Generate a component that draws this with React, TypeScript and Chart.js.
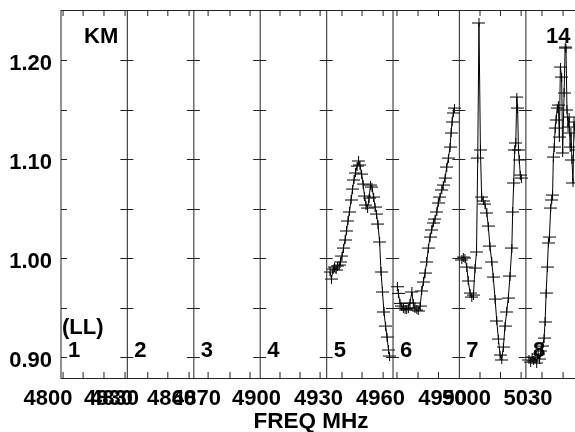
import React, { useEffect, useRef } from 'react';
import { Chart, registerables } from 'chart.js';

Chart.register(...registerables);

// ---- axis ranges ----
const X_MIN = 4806;
const X_MAX = 5063;
const Y_MIN = 0.8778;
const Y_MAX = 1.2505;

// ---- IF panel boundaries (MHz) and numbers ----
const panelEdges = [4806, 4838.1, 4870.3, 4902.4, 4934.6, 4966.7, 4998.8, 5031.0];
const panelNumbers = ['1', '2', '3', '4', '5', '6', '7', '8'];

// ---- y ticks ----
const yTickValues = [0.9, 0.95, 1.0, 1.05, 1.1, 1.15, 1.2];
const yLabelValues = [0.9, 1.0, 1.1, 1.2];
const yLabelTexts = ['0.90', '1.00', '1.10', '1.20'];

// ---- x ticks (per-IF minor ticks) and frequency labels ----
const xMinorTicks = [
  4807.0, 4816.7, 4826.8, 4837.0,
  4848.0, 4857.7, 4868.0,
  4877.2, 4887.8, 4897.5,
  4912.0, 4921.7, 4931.4,
  4942.0, 4951.7, 4961.9,
  4968.6, 4978.8, 4988.7,
  5008.8, 5018.7, 5028.7,
  5038.8, 5049.0,
];
const xLabelFreqs = [4799.7, 4829.0, 4831.9, 4859.5, 4871.6, 4900.6, 4930.6, 4960.6, 4990.7, 5002.3, 5032.0];
const xLabelTexts = ['4800', '4830', '4830', '4860', '4870', '4900', '4930', '4960', '4990', '5000', '5030'];

// ---- spectra (frequency MHz, amplitude) ----
const if5Freq = [4936.2, 4936.9, 4937.7, 4938.4, 4939.1, 4939.8, 4940.6, 4941.3, 4942.0, 4942.7, 4943.5, 4944.2, 4944.9, 4945.6, 4946.4, 4947.1, 4947.8, 4948.5, 4949.3, 4950.0, 4950.7, 4951.5, 4952.2, 4952.9, 4953.6, 4954.4, 4955.1, 4955.8, 4956.5, 4957.3, 4958.0, 4958.7, 4959.4, 4960.2, 4960.9, 4961.6, 4962.3, 4963.1, 4963.8, 4964.5, 4965.0];
const if5Amp = [0.9859, 0.9788, 0.9889, 0.9909, 0.9879, 0.9919, 0.9929, 0.996, 1.002, 1.0101, 1.0182, 1.0273, 1.0374, 1.0465, 1.0586, 1.0697, 1.0788, 1.0859, 1.0929, 1.098, 1.0939, 1.0848, 1.0747, 1.0626, 1.0535, 1.0505, 1.0606, 1.0737, 1.0717, 1.0616, 1.0515, 1.0444, 1.0343, 1.0162, 0.9859, 0.9657, 0.9455, 0.9313, 0.9202, 0.9071, 0.901];

const if6Freq = [4968.8, 4969.3, 4970.1, 4970.9, 4971.7, 4972.5, 4973.3, 4974.1, 4974.9, 4975.8, 4976.5, 4977.3, 4978.2, 4978.9, 4979.8, 4980.6, 4981.4, 4982.2, 4983.0, 4983.8, 4984.6, 4985.4, 4986.2, 4987.0, 4987.9, 4988.6, 4989.4, 4990.3, 4991.0, 4991.9, 4992.7, 4993.5, 4994.3, 4994.8, 4995.3, 4995.9, 4996.4];
const if6Amp = [0.971, 0.9643, 0.9542, 0.9515, 0.9492, 0.9475, 0.9485, 0.9495, 0.9545, 0.9657, 0.9545, 0.9495, 0.9475, 0.9465, 0.9515, 0.9667, 0.9758, 0.9848, 0.996, 1.0101, 1.0212, 1.0283, 1.0354, 1.0394, 1.0465, 1.0556, 1.0616, 1.0687, 1.0737, 1.0808, 1.0919, 1.101, 1.1121, 1.1263, 1.1374, 1.1465, 1.1515];

const if7Freq = [5000.0, 5000.7, 5001.5, 5002.4, 5003.1, 5004.0, 5004.8, 5005.6, 5006.4, 5007.1, 5007.7, 5008.3, 5009.0, 5009.6, 5010.4, 5011.2, 5012.1, 5012.8, 5013.6, 5014.5, 5015.2, 5016.1, 5016.9, 5017.7, 5018.5, 5019.3, 5020.1, 5020.9, 5021.7, 5022.5, 5023.3, 5024.2, 5024.6, 5025.1, 5025.6, 5026.1, 5026.6, 5027.0, 5027.4, 5027.8, 5028.3, 5028.8];
const if7Amp = [0.998, 1.001, 1.0, 0.9909, 0.9768, 0.9646, 0.9606, 0.9626, 0.9899, 1.0061, 1.101, 1.2374, 1.1091, 1.0616, 1.0576, 1.0545, 1.0455, 1.0323, 1.0121, 0.996, 0.9808, 0.9586, 0.9364, 0.9182, 0.902, 0.897, 0.9101, 0.9313, 0.9455, 0.9596, 0.9818, 1.0101, 1.0465, 1.0758, 1.1091, 1.1162, 1.1626, 1.1515, 1.1091, 1.099, 1.0838, 1.0808];

const if8Freq = [5032.5, 5033.3, 5034.0, 5034.7, 5035.4, 5036.2, 5036.9, 5037.6, 5038.3, 5039.1, 5039.8, 5040.3, 5040.8, 5041.4, 5041.9, 5042.4, 5043.0, 5043.5, 5043.9, 5044.3, 5044.7, 5045.2, 5045.6, 5046.2, 5046.7, 5047.2, 5047.7, 5048.3, 5048.8, 5049.5, 5050.0, 5050.4, 5050.9, 5051.4, 5051.9, 5052.4, 5052.8, 5053.3, 5053.8, 5054.3, 5055.3];
const if8Amp = [0.897, 0.8949, 0.9, 0.896, 0.899, 0.8939, 0.903, 0.898, 0.9061, 0.9111, 0.9192, 0.9354, 0.9646, 0.9909, 1.0152, 1.0212, 1.0505, 1.0586, 1.0636, 1.102, 1.1121, 1.1313, 1.1394, 1.1515, 1.1545, 1.1222, 1.1929, 1.1828, 1.1061, 1.1667, 1.2131, 1.2121, 1.1495, 1.1323, 1.1424, 1.1121, 1.1263, 1.099, 1.0758, 1.1374, 1.1091];

const spectra = [
  { freq: if5Freq, amp: if5Amp },
  { freq: if6Freq, amp: if6Amp },
  { freq: if7Freq, amp: if7Amp },
  { freq: if8Freq, amp: if8Amp },
];

const FONT = 'bold 22px "Liberation Sans", Arial, Helvetica, sans-serif';
const TITLE_FONT = 'bold 22.5px "Liberation Sans", Arial, Helvetica, sans-serif';

function makeCross(): HTMLCanvasElement {
  const c = document.createElement('canvas');
  c.width = 13;
  c.height = 9;
  const g = c.getContext('2d')!;
  g.strokeStyle = '#000';
  g.lineWidth = 1;
  g.beginPath();
  g.moveTo(0, 4.5);
  g.lineTo(13, 4.5);
  g.moveTo(6.5, 0);
  g.lineTo(6.5, 9);
  g.stroke();
  return c;
}

const framePlugin = {
  id: 'aipsFrame',
  afterDraw(chart: any) {
    const { ctx, chartArea, scales } = chart;
    const { left, top, bottom, right } = chartArea;
    const xs = scales.x;
    const ys = scales.y;
    ctx.save();
    ctx.strokeStyle = '#222';
    ctx.lineWidth = 1;

    // top & bottom border
    ctx.beginPath();
    ctx.moveTo(left, top + 0.5);
    ctx.lineTo(right, top + 0.5);
    ctx.moveTo(left, bottom - 0.5);
    ctx.lineTo(right, bottom - 0.5);
    ctx.stroke();

    // panel lines with y ticks
    panelEdges.forEach((f, i) => {
      const px = xs.getPixelForValue(f);
      ctx.beginPath();
      ctx.moveTo(px, top);
      ctx.lineTo(px, bottom);
      ctx.stroke();
      yTickValues.forEach((v) => {
        const py = Math.round(ys.getPixelForValue(v)) + 0.5;
        ctx.beginPath();
        ctx.moveTo(i === 0 ? px : px - 7, py);
        ctx.lineTo(px + 6, py);
        ctx.stroke();
      });
    });

    // x minor ticks on top and bottom
    xMinorTicks.forEach((f) => {
      const px = xs.getPixelForValue(f);
      ctx.beginPath();
      ctx.moveTo(px, top);
      ctx.lineTo(px, top + 6);
      ctx.moveTo(px, bottom);
      ctx.lineTo(px, bottom - 7);
      ctx.stroke();
    });

    ctx.fillStyle = '#000';
    ctx.font = FONT;
    ctx.textBaseline = 'alphabetic';

    // y labels
    ctx.textAlign = 'right';
    yLabelValues.forEach((v, i) => {
      const py = ys.getPixelForValue(v);
      ctx.fillText(yLabelTexts[i], left - 9, py + 10);
    });

    // x labels
    ctx.textAlign = 'center';
    xLabelFreqs.forEach((f, i) => {
      ctx.fillText(xLabelTexts[i], xs.getPixelForValue(f), bottom + 26);
    });

    // axis title
    ctx.font = TITLE_FONT;
    ctx.fillText('FREQ MHz', 311, bottom + 49);

    // panel numbers
    ctx.font = FONT;
    ctx.textAlign = 'left';
    const py90 = ys.getPixelForValue(0.9);
    panelEdges.forEach((f, i) => {
      ctx.fillText(panelNumbers[i], xs.getPixelForValue(f) + 7, py90);
    });

    // annotations
    ctx.fillText('KM', left + 23, top + 33);
    ctx.fillText('(LL)', left + 1, py90 - 23);
    ctx.fillText('14', 546, top + 33);

    ctx.restore();
  },
};

export default function App() {
  const ref = useRef<HTMLCanvasElement | null>(null);

  useEffect(() => {
    document.body.style.margin = '0';
    const canvas = ref.current;
    if (!canvas) return;
    const cross = makeCross();
    const chart = new Chart(canvas, {
      type: 'scatter',
      data: {
        datasets: spectra.map((s) => ({
          data: s.freq.map((f, i) => ({ x: f, y: s.amp[i] })),
          showLine: true,
          borderColor: '#000',
          borderWidth: 1,
          backgroundColor: '#000',
          pointStyle: cross as any,
          pointRadius: 4,
          tension: 0,
          fill: false,
        })),
      },
      options: {
        responsive: false,
        maintainAspectRatio: false,
        devicePixelRatio: 1,
        animation: false,
        events: [],
        layout: { padding: { left: 61, top: 10, right: 8, bottom: 53 } },
        scales: {
          x: { type: 'linear', min: X_MIN, max: X_MAX, display: false },
          y: { type: 'linear', min: Y_MIN, max: Y_MAX, display: false },
        },
        plugins: {
          legend: { display: false },
          tooltip: { enabled: false },
          title: { display: false },
        },
      },
      plugins: [framePlugin],
    });
    return () => chart.destroy();
  }, []);

  return (
    <div style={{ width: 575, height: 432, overflow: 'hidden', position: 'relative', background: '#fff' }}>
      <canvas ref={ref} width={600} height={432} style={{ display: 'block', width: 600, height: 432 }} />
    </div>
  );
}
